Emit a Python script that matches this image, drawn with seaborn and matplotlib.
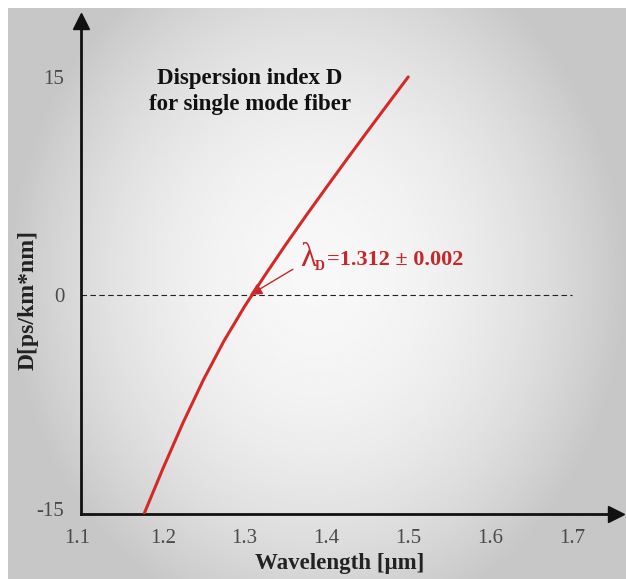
import matplotlib.pyplot as plt
import matplotlib.transforms as mtransforms
import numpy as np
import pandas as pd
import seaborn as sns

# values
wavelength = [1.177, 1.2, 1.225, 1.25, 1.275, 1.3, 1.325, 1.35, 1.375, 1.4, 1.425, 1.45, 1.475, 1.5]
dispersion = [-15.0, -11.9, -8.7, -5.75, -3.1, -0.75, 1.4, 3.47, 5.47, 7.42, 9.35, 11.25, 13.13, 15.0]
x_ticks = [1.1, 1.2, 1.3, 1.4, 1.5, 1.6, 1.7]
y_ticks = [-15, 0, 15]
lambda_text = '=1.312 ± 0.002'

sns.set_style("white")
plt.rcParams['font.family'] = ['Liberation Serif', 'DejaVu Serif']

fig = plt.figure(figsize=(6.26, 5.79), dpi=100)

# grey panel with a soft light centre
bg = fig.add_axes([8 / 626, 0, 1 - 8 / 626, 1 - 8 / 579])
yy, xx = np.mgrid[-1:1:300j, -1:1:300j]
r = np.sqrt((xx * 1.0) ** 2 + ((yy + 0.05) * 0.8) ** 2)
shade = 0.97 - 0.19 * np.clip(r, 0, 1.0) ** 2
bg.imshow(shade, cmap='gray', vmin=0, vmax=1, aspect='auto', extent=[0, 1, 0, 1])
bg.axis('off')

ax = fig.add_axes([81 / 626, 1 - 514 / 579, (616 - 81) / 626, (514 - 21) / 579])
ax.patch.set_alpha(0)

df = pd.DataFrame({'wavelength': wavelength, 'D': dispersion})
sns.lineplot(data=df, x='wavelength', y='D', color='#d42a26', lw=2.2, ax=ax, zorder=4)

ax.set_xlim(1.1, 1.754)
ax.set_ylim(-15, 18.84)

# axes with arrow heads
for side in ['top', 'right']:
    ax.spines[side].set_visible(False)
for side in ['left', 'bottom']:
    ax.spines[side].set_linewidth(2)
    ax.spines[side].set_color('#111111')
ax.plot(1, 0, '>', color='#111111', ms=12, transform=ax.transAxes, clip_on=False)
ax.plot(0, 1, '^', color='#111111', ms=12, transform=ax.transAxes, clip_on=False)

# zero line
ax.plot([x_ticks[0], x_ticks[-1]], [0, 0], color='#222222', lw=0.8, ls=(0, (5, 3)), zorder=2)

ax.set_xticks(x_ticks)
ax.set_xticklabels([f'{v:.1f}' for v in x_ticks])
ax.set_yticks(y_ticks)
ax.set_yticklabels([str(v) for v in y_ticks])
ax.set_yticks([15], minor=True)
ax.tick_params(axis='x', direction='in', length=10, width=1, color='#777777',
               labelsize=15, labelcolor='#4a4a4a', pad=11)
ax.tick_params(axis='y', which='major', length=0, labelsize=15, labelcolor='#4a4a4a', pad=12)
ax.tick_params(axis='y', which='minor', direction='in', length=9, width=1, color='#777777')
ax.xaxis.get_major_ticks()[0].tick1line.set_visible(False)
lbl = ax.get_yticklabels()[0]
lbl.set_transform(lbl.get_transform() + mtransforms.ScaledTranslation(0, 5 / 100, fig.dpi_scale_trans))
lbl = ax.get_xticklabels()[0]
lbl.set_transform(lbl.get_transform() + mtransforms.ScaledTranslation(-4 / 100, 0, fig.dpi_scale_trans))
ax.set_xlabel('')
ax.set_ylabel('')

ax.text(1.3066, 14.0, 'Dispersion index D\nfor single mode fiber', ha='center', va='center',
        fontsize=16.5, fontweight='bold', linespacing=1.3, color='#111111')

# lambda_D label and arrow
red = '#c4282a'
ax.annotate('', xy=(1.3065, 0.03), xytext=(1.359, 1.8),
            arrowprops=dict(arrowstyle='-|>', color=red, lw=1, mutation_scale=18,
                            shrinkA=0, shrinkB=0))
ax.text(1.3676, 2.0, 'λ', fontsize=24, color=red, ha='left', va='baseline')
ax.text(1.3856, 1.75, 'D', fontsize=10, fontweight='bold', color=red, ha='left', va='baseline')
ax.text(1.4006, 2.45, lambda_text, fontsize=16, fontweight='bold', color=red,
        ha='left', va='center')

fig.text(0.045, 0.482, 'D[ps/km*nm]', rotation=90, ha='center', va='center',
         fontsize=17, fontweight='bold', color='#222222')
fig.text(0.543, 0.026, 'Wavelength [μm]', ha='center', va='center',
         fontsize=16.5, fontweight='bold', color='#222222')

plt.savefig('out.png', dpi=100)
